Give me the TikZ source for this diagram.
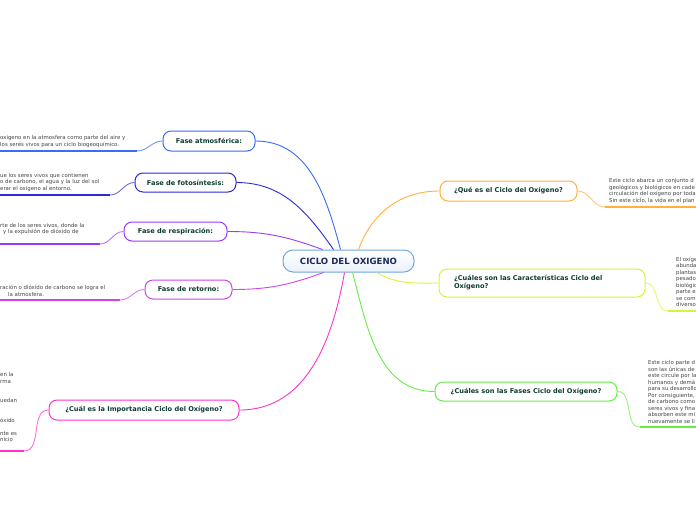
\documentclass[tikz,border=0pt]{standalone}
\usepackage{fontspec}
\setmainfont{DejaVu Sans}

\definecolor{ciclocol}{HTML}{6FA8DC}
\definecolor{ciclotext}{HTML}{1C2A59}
\definecolor{topictext}{HTML}{0E3B30}
\definecolor{notetext}{HTML}{444444}
\definecolor{atmoscol}{HTML}{3A6CF4}
\definecolor{fotocol}{HTML}{2B2BD8}
\definecolor{respcol}{HTML}{9A3CF0}
\definecolor{retcol}{HTML}{D044EE}
\definecolor{impcol}{HTML}{FF33CC}
\definecolor{quecol}{HTML}{FFB040}
\definecolor{carcol}{HTML}{D4F53C}
\definecolor{fasescol}{HTML}{66EE44}

\begin{document}
\begin{tikzpicture}[x=1pt, y=-1pt,
    topic/.style={draw, line width=1pt, rounded corners=8pt, fill=white, text=topictext,
        font=\bfseries\fontsize{6.6}{8}\selectfont, inner sep=0pt, align=center},
    note/.style={anchor=south west, inner sep=0pt, align=left, text=notetext,
        font=\fontsize{5.4}{6.5}\selectfont},
    branch/.style={line width=0.9pt},
    noterule/.style={line width=2.4pt}]

    \useasboundingbox (0,0) rectangle (696,520);
    \clip (0,0) rectangle (696,520);

    % Central topic
    \node[topic, draw=ciclocol, text=ciclotext, font=\bfseries\fontsize{8.6}{10}\selectfont,
        minimum width=131pt, minimum height=22pt, rounded corners=10pt,
        top color=white, bottom color=ciclocol!15] (ciclo) at (348.5,261) {CICLO DEL OXIGENO};

    % ==========================================
    % Left branches
    % ==========================================
    \node[topic, draw=atmoscol, minimum width=92pt, minimum height=20pt] (atmos) at (209,141) {Fase atmosférica:};
    \node[topic, draw=fotocol, minimum width=101pt, minimum height=19pt] (foto) at (185.5,182.5) {Fase de fotosíntesis:};
    \node[topic, draw=respcol, minimum width=103pt, minimum height=19pt] (resp) at (175.5,231.5) {Fase de respiración:};
    \node[topic, draw=retcol, minimum width=87pt, minimum height=19pt] (ret) at (188.5,289.5) {Fase de retorno:};
    \node[topic, draw=impcol, minimum width=190pt, minimum height=20pt] (imp) at (144,410) {¿Cuál es la Importancia Ciclo del Oxígeno?};

    \draw[branch, atmoscol] ([xshift=-8pt]ciclo.north) to[out=105, in=0] (atmos.east);
    \draw[branch, fotocol] ([xshift=-15pt]ciclo.north) to[out=125, in=0] (foto.east);
    \draw[branch, respcol] ([xshift=-26pt]ciclo.north) to[out=160, in=0] (resp.east);
    \draw[branch, retcol] ([xshift=-25pt]ciclo.south) to[out=-160, in=0] (ret.east);
    \draw[branch, impcol] ([xshift=-4pt]ciclo.south) to[out=-100, in=0] (imp.east);

    % Notes on the left
    \coordinate (atmosA) at (0,151);   \coordinate (atmosB) at (137,151);
    \coordinate (fotoA) at (0,195);    \coordinate (fotoB) at (110,195);
    \coordinate (respA) at (0,244);    \coordinate (respB) at (100,244);
    \coordinate (retA) at (0,300);     \coordinate (retB) at (120,300);
    \coordinate (impA) at (0,451);     \coordinate (impB) at (24,451);

    \draw[noterule, atmoscol] (atmosA) -- (atmosB);
    \draw[branch, atmoscol!70] (atmos.west) to[out=180, in=0] (atmosB);
    \node[note] (atmostxt) at (0,147.5) {oxigeno en la atmosfera como parte del aire y\\
        los seres vivos para un ciclo biogeoquímico.};

    \draw[noterule, fotocol] (fotoA) -- (fotoB);
    \draw[branch, fotocol!70] (foto.west) to[out=180, in=0] (fotoB);
    \node[note] (fototxt) at (0,191.5) {ue los seres vivos que contienen\\
        o de carbono, el agua y la luz del sol\\
        erar el oxigeno al entorno.};

    \draw[noterule, respcol] (respA) -- (respB);
    \draw[branch, respcol!70] (resp.west) to[out=180, in=0] (respB);
    \node[note] (resptxt) at (0,240.5) {rte de los seres vivos, donde la\\
        \hspace{3pt}y la expulsión de dióxido de\\ \mbox{}};

    \draw[noterule, retcol] (retA) -- (retB);
    \draw[branch, retcol!70] (ret.west) to[out=180, in=0] (retB);
    \node[note] (rettxt) at (0,296.5) {ración o dióxido de carbono se logra el\\
        \hspace{8pt}la atmosfera.};

    \draw[noterule, impcol] (impA) -- (impB);
    \draw[branch, impcol!70] (imp.west) to[out=180, in=0] (impB);
    \node[note] (imptxt) at (0,442) {en la\\ rma\\ \mbox{}\\ \mbox{}\\ uedan\\ \mbox{}\\ \mbox{}\\
        óxido\\ \mbox{}\\ nte es\\ nicio};

    % ==========================================
    % Right branches
    % ==========================================
    \node[topic, draw=quecol, minimum width=137pt, minimum height=20pt] (que) at (508.5,191) {¿Qué es el Ciclo del Oxígeno?};
    \node[topic, draw=carcol, minimum width=206pt, minimum height=28pt, text width=176pt, align=left] (car) at (542,283)
        {¿Cuáles son las Características Ciclo del\\Oxígeno?};
    \node[topic, draw=fasescol, minimum width=182pt, minimum height=19pt] (fases) at (526,391.5) {¿Cuáles son las Fases Ciclo del Oxígeno?};

    \draw[branch, quecol] ([xshift=10pt]ciclo.north) to[out=70, in=180] (que.west);
    \draw[branch, carcol] ([xshift=28pt]ciclo.south) to[out=-30, in=180] (car.west);
    \draw[branch, fasescol] ([xshift=4pt]ciclo.south) to[out=-75, in=180] (fases.west);

    % Notes on the right
    \coordinate (queA) at (605,207);   \coordinate (queB) at (696,207);
    \coordinate (carA) at (668,311);   \coordinate (carB) at (696,311);
    \coordinate (fasesA) at (640,427); \coordinate (fasesB) at (696,427);

    \draw[noterule, quecol] (queA) -- (queB);
    \draw[branch, quecol!70] (que.east) to[out=0, in=180] (queA);
    \node[note] (quetxt) at (609,203.5) {Este ciclo abarca un conjunto d\\
        geológicos y biológicos en cade\\
        circulación del oxígeno por toda\\
        Sin este ciclo, la vida en el plan};

    \draw[noterule, carcol] (carA) -- (carB);
    \draw[branch, carcol!70] (car.east) to[out=0, in=180] (carA);
    \node[note] (cartxt) at (676,307) {El oxíge\\ abunda\\ plantas\\ pesado\\ biológic\\ parte e\\ se com\\ diverso};

    \draw[noterule, fasescol] (fasesA) -- (fasesB);
    \draw[branch, fasescol!70] (fases.east) to[out=0, in=180] (fasesA);
    \node[note] (fasestxt) at (648,423.5) {Este ciclo parte d\\ son las únicas de\\ este circule por la\\
        humanos y demá\\ para su desarrollo\\ Por consiguiente,\\ de carbono como\\
        seres vivos y fina\\ absorben este mi\\ nuevamente se li};

\end{tikzpicture}
\end{document}
